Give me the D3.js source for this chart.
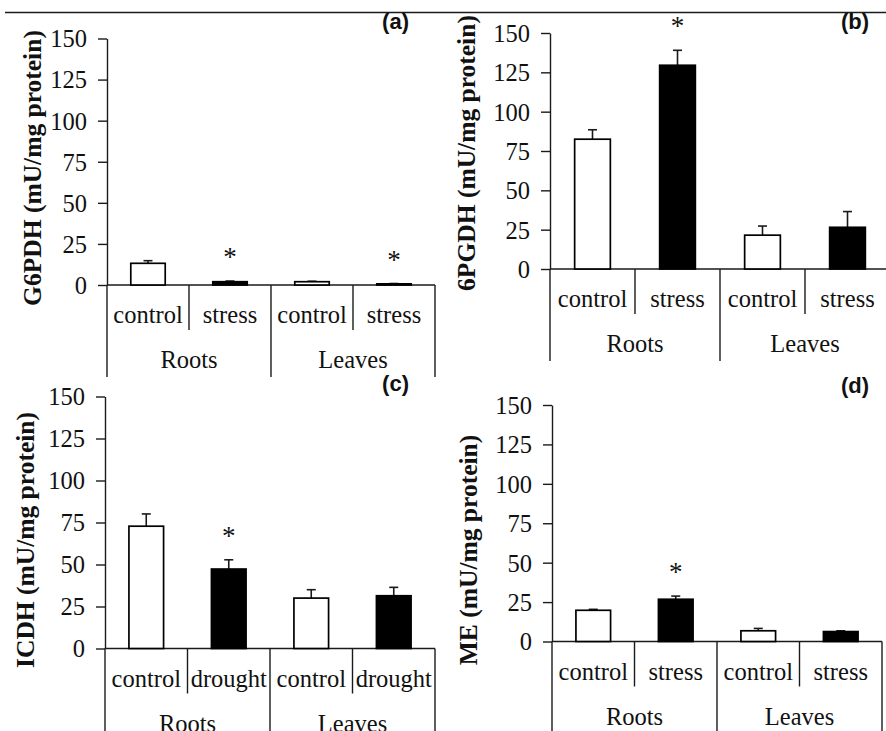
<!DOCTYPE html>
<html>
<head>
<meta charset="utf-8">
<script src="https://cdn.jsdelivr.net/npm/d3@7"></script>
<style>
  body { margin: 0; background: #fff; }
  text { fill: #111; }
</style>
</head>
<body>
<div id="chart"></div>
<script>
// ---- data ----
var panelLabels = ["(a)", "(b)", "(c)", "(d)"];
var yTitles = ["G6PDH (mU/mg protein)", "6PGDH (mU/mg protein)", "ICDH (mU/mg protein)", "ME (mU/mg protein)"];
var groups = ["Roots", "Leaves"];
var treatmentsStress = ["control", "stress"];
var treatmentsDrought = ["control", "drought"];
var yTicks = [0, 25, 50, 75, 100, 125, 150];

var g6pdhMeans = [13.2, 2, 2, 0.7];
var g6pdhErrors = [1.6, 0.4, 0.3, 0.2];
var g6pdhStars = [false, true, false, true];

var pgdhMeans = [82.5, 129.5, 21.5, 26.5];
var pgdhErrors = [6, 9.5, 5.8, 10];
var pgdhStars = [false, true, false, false];

var icdhMeans = [72.8, 47.3, 30, 31.4];
var icdhErrors = [7.3, 5.5, 5, 5];
var icdhStars = [false, true, false, false];

var meMeans = [19.8, 26.8, 6.8, 6.3];
var meErrors = [0.6, 2, 1.5, 0.5];
var meStars = [false, true, false, false];

// ---- layout (pixels) ----
var width = 886,
    height = 731;

var panels = [
    { x0: 107, x1: 435, yTop: 38.5, yZero: 285, titleX: 32, titleY: 168, labelX: 409, labelY: 29,
      treatments: treatmentsStress, means: g6pdhMeans, errors: g6pdhErrors, stars: g6pdhStars },
    { x0: 550, x1: 890, yTop: 33, yZero: 269, titleX: 466, titleY: 153, labelX: 869, labelY: 29,
      treatments: treatmentsStress, means: pgdhMeans, errors: pgdhErrors, stars: pgdhStars },
    { x0: 105, x1: 435, yTop: 396.5, yZero: 648.5, titleX: 25, titleY: 540, labelX: 409, labelY: 391,
      treatments: treatmentsDrought, means: icdhMeans, errors: icdhErrors, stars: icdhStars },
    { x0: 552, x1: 882, yTop: 405, yZero: 641.5, titleX: 468, titleY: 550, labelX: 869, labelY: 393,
      treatments: treatmentsStress, means: meMeans, errors: meErrors, stars: meStars }
];

var serif = "Liberation Serif, Times New Roman, serif",
    sans = "Liberation Sans, Arial, sans-serif",
    ink = "#1a1a1a";

var svg = d3.select("#chart")
    .append("svg")
    .attr("width", width)
    .attr("height", height);

// page rule across the top
svg.append("line")
    .attr("x1", 5).attr("x2", width)
    .attr("y1", 12.5).attr("y2", 12.5)
    .attr("stroke", ink)
    .attr("stroke-width", 1.6);

panels.forEach(function (p, pi) {
    // one key per bar: group + treatment
    var keys = [];
    groups.forEach(function (g) {
        p.treatments.forEach(function (t) { keys.push(g + "|" + t); });
    });

    var rows = keys.map(function (k, i) {
        return { key: k, group: k.split("|")[0], treatment: k.split("|")[1], ti: i % 2,
                 mean: p.means[i], err: p.errors[i], star: p.stars[i] };
    });

    var y = d3.scaleLinear().domain([0, 150]).range([p.yZero, p.yTop]);

    var xCat = d3.scaleBand().domain(keys).range([p.x0, p.x1]).padding(0);
    var xBar = d3.scaleBand().domain(keys).range([p.x0, p.x1])
        .paddingInner(0.58).paddingOuter(0.29);
    var xGroup = d3.scaleBand().domain(groups).range([p.x0, p.x1]).padding(0);

    var g = svg.append("g").attr("class", "panel");

    // y axis
    var yAxis = g.append("g")
        .attr("transform", "translate(" + p.x0 + ",0)")
        .call(d3.axisLeft(y).tickValues(yTicks).tickSize(9).tickSizeOuter(0).tickPadding(11));
    yAxis.attr("font-family", serif).attr("font-size", 24);
    yAxis.select(".domain").attr("stroke", ink).attr("stroke-width", 1.4);
    yAxis.selectAll(".tick line").attr("stroke", ink).attr("stroke-width", 1.4);
    yAxis.selectAll(".tick text")
        .style("font-family", serif)
        .style("font-size", "24.5px")
        .attr("dy", "0.34em")
        .attr("fill", "#111");

    // x baseline
    g.append("line")
        .attr("x1", p.x0).attr("x2", xCat.range()[1])
        .attr("y1", y(0)).attr("y2", y(0))
        .attr("stroke", ink).attr("stroke-width", 1.4);

    // dividers between categories: short inside a group, long between groups
    var bounds = keys.map(function (k) { return xCat(k); }).concat([xCat.range()[1]]);
    g.selectAll("line.divider")
        .data(bounds)
        .enter().append("line")
        .attr("class", "divider")
        .attr("x1", function (d) { return d; })
        .attr("x2", function (d) { return d; })
        .attr("y1", y(0))
        .attr("y2", function (d, i) { return i % 2 === 0 ? y(0) + 92 : y(0) + 45; })
        .attr("stroke", ink).attr("stroke-width", 1.4);

    // treatment labels
    g.selectAll("text.treat")
        .data(rows)
        .enter().append("text")
        .attr("class", "treat")
        .attr("x", function (d) { return xCat(d.key) + xCat.bandwidth() / 2; })
        .attr("y", y(0) + 38)
        .attr("text-anchor", "middle")
        .style("font-family", serif)
        .style("font-size", "24.5px")
        .text(function (d) { return d.treatment; });

    // group labels
    g.selectAll("text.group")
        .data(groups)
        .enter().append("text")
        .attr("class", "group")
        .attr("x", function (d) { return xGroup(d) + xGroup.bandwidth() / 2; })
        .attr("y", y(0) + 83)
        .attr("text-anchor", "middle")
        .style("font-family", serif)
        .style("font-size", "24.5px")
        .text(function (d) { return d; });

    // error bars (upper only)
    var eb = g.selectAll("g.err")
        .data(rows)
        .enter().append("g")
        .attr("class", "err")
        .attr("stroke", ink)
        .attr("stroke-width", 1.6);
    eb.append("line")
        .attr("x1", function (d) { return xBar(d.key) + xBar.bandwidth() / 2; })
        .attr("x2", function (d) { return xBar(d.key) + xBar.bandwidth() / 2; })
        .attr("y1", function (d) { return y(d.mean); })
        .attr("y2", function (d) { return y(d.mean + d.err); });
    eb.append("line")
        .attr("x1", function (d) { return xBar(d.key) + xBar.bandwidth() / 2 - 4.5; })
        .attr("x2", function (d) { return xBar(d.key) + xBar.bandwidth() / 2 + 4.5; })
        .attr("y1", function (d) { return y(d.mean + d.err); })
        .attr("y2", function (d) { return y(d.mean + d.err); });

    // bars
    g.selectAll("rect.bar")
        .data(rows)
        .enter().append("rect")
        .attr("class", "bar")
        .attr("x", function (d) { return xBar(d.key); })
        .attr("width", xBar.bandwidth())
        .attr("y", function (d) { return y(d.mean); })
        .attr("height", function (d) { return y(0) - y(d.mean); })
        .attr("fill", function (d) { return d.ti === 0 ? "#fff" : "#000"; })
        .attr("stroke", "#000")
        .attr("stroke-width", 1.7);

    // significance stars
    g.selectAll("text.star")
        .data(rows.filter(function (d) { return d.star; }))
        .enter().append("text")
        .attr("class", "star")
        .attr("x", function (d) { return xBar(d.key) + xBar.bandwidth() / 2; })
        .attr("y", function (d) { return y(d.mean + d.err) - 15; })
        .attr("text-anchor", "middle")
        .style("font-family", serif)
        .style("font-size", "27px")
        .text("*");

    // y title
    g.append("text")
        .attr("transform", "translate(" + p.titleX + "," + p.titleY + ") rotate(-90)")
        .attr("text-anchor", "middle")
        .attr("dy", "0.35em")
        .style("font-family", serif)
        .style("font-weight", "bold")
        .style("font-size", "25.5px")
        .text(yTitles[pi]);

    // panel letter
    g.append("text")
        .attr("x", p.labelX)
        .attr("y", p.labelY)
        .attr("text-anchor", "end")
        .style("font-family", sans)
        .style("font-weight", "bold")
        .style("font-size", "22px")
        .text(panelLabels[pi]);
});
</script>
</body>
</html>
